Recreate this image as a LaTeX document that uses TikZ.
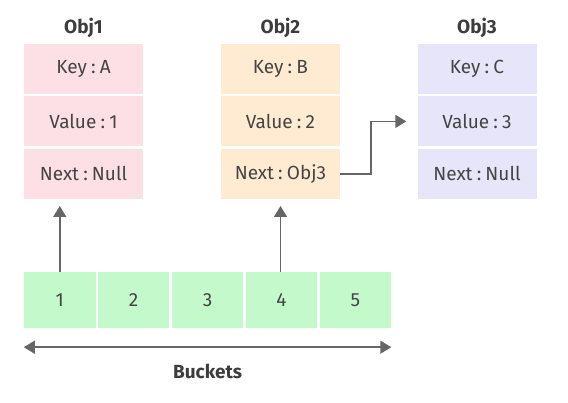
\documentclass[tikz,border=0pt]{standalone}
\usepackage{fontspec}
\setmainfont{Fira Sans}
\usepackage{tikz}
\usetikzlibrary{positioning,arrows.meta}

\definecolor{pinkc}{HTML}{FDE0E6}
\definecolor{orangec}{HTML}{FEEBD1}
\definecolor{lilac}{HTML}{E7E5F9}
\definecolor{greenc}{HTML}{C3F9CB}
\definecolor{inkc}{HTML}{444444}
\definecolor{linec}{HTML}{666666}

\newcommand{\kv}[2]{#1\hspace{.22em}:\hspace{.22em}#2}

\tikzset{
  cell/.style={shape=rectangle, minimum width=119pt, minimum height=50pt,
    inner sep=0pt, text=inkc, font=\fontsize{19}{21}\selectfont},
  bucket/.style={cell, fill=greenc, minimum width=71.5pt, minimum height=56pt},
  title/.style={text=inkc!90!black, font=\fontsize{19}{21}\selectfont\bfseries},
  link/.style={draw=linec, line width=1.6pt,
    -{Triangle[length=11pt,width=13pt]}}
}

\begin{document}
\begin{tikzpicture}[x=1pt, y=1pt]
\useasboundingbox (0,0) rectangle (568,402);

% objects
\node (k1) [cell, fill=pinkc] at (83.5,333) {\kv{Key}{A}};
\node (v1) [cell, fill=pinkc, below=2pt of k1] {\kv{Value}{1}};
\node (n1) [cell, fill=pinkc, below=2pt of v1] {\kv{Next}{Null}};
\node (t1) [title, above=3pt of k1] {Obj1};

\node (k2) [cell, fill=orangec] at (280.5,333) {\kv{Key}{B}};
\node (v2) [cell, fill=orangec, below=2pt of k2] {\kv{Value}{2}};
\node (n2) [cell, fill=orangec, below=2pt of v2] {\kv{Next}{Obj3}};
\node (t2) [title, above=3pt of k2] {Obj2};

\node (k3) [cell, fill=lilac] at (477,333) {\kv{Key}{C}};
\node (v3) [cell, fill=lilac, below=2pt of k3] {\kv{Value}{3}};
\node (n3) [cell, fill=lilac, below=2pt of v3] {\kv{Next}{Null}};
\node (t3) [title, above=3pt of k3] {Obj3};

% buckets
\node (b1) [bucket] at (59.75,102) {1};
\node (b2) [bucket, right=2pt of b1] {2};
\node (b3) [bucket, right=2pt of b2] {3};
\node (b4) [bucket, right=2pt of b3] {4};
\node (b5) [bucket, right=2pt of b4] {5};
\node (bk) [title, below=32pt of b3] {Buckets};

\coordinate (bl) at ([yshift=-19pt]b1.south west);
\coordinate (br) at ([yshift=-19pt]b5.south east);

\draw[link, shorten >=7pt] (b1.north) -- (b1.north |- n1.south);
\draw[link, shorten >=7pt] (b4.north -| n2.south) -- (n2.south);
\draw[link, shorten >=11pt] (n2.east) -- ++(31pt,0) |- (v3.west);
\draw[link, {Triangle[length=11pt,width=13pt]}-{Triangle[length=11pt,width=13pt]}] (bl) -- (br);
\end{tikzpicture}
\end{document}
